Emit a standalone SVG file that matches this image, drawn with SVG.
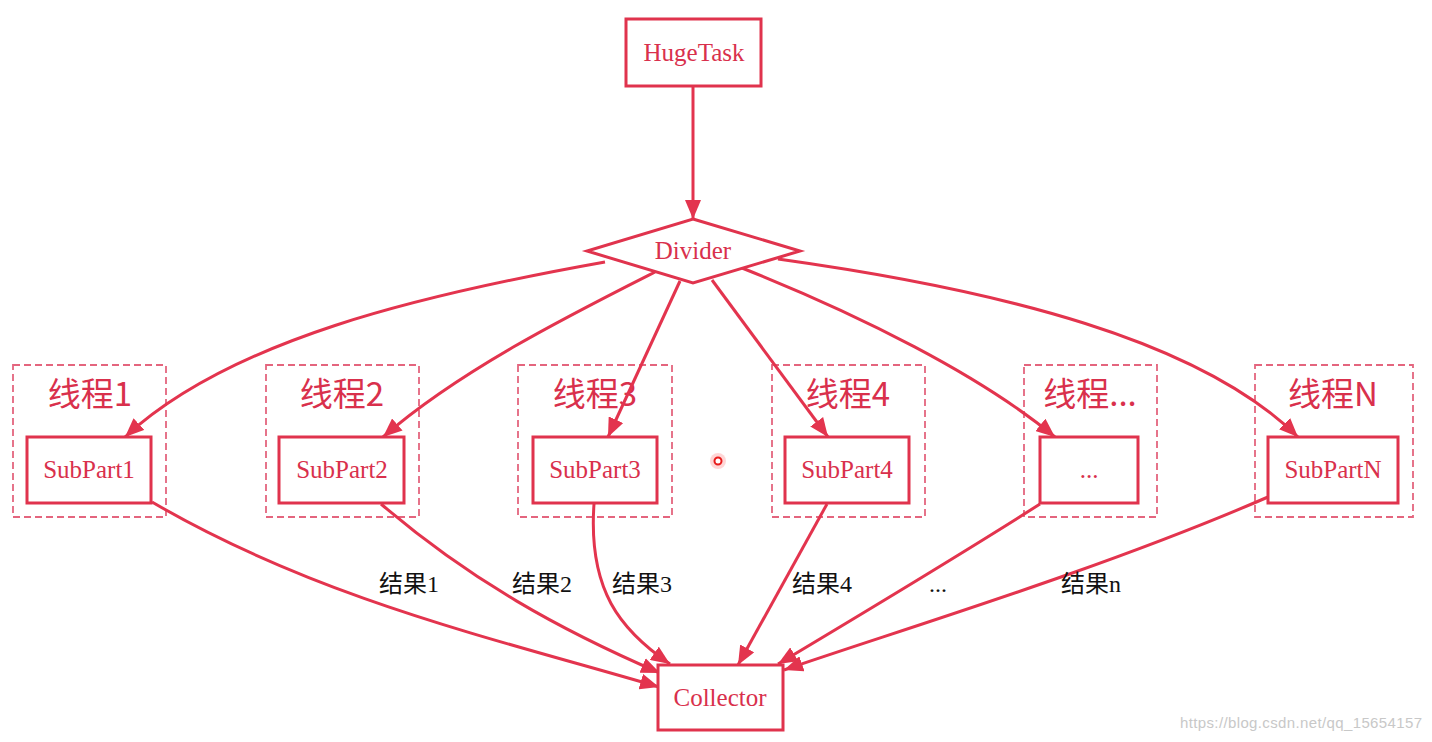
<svg xmlns="http://www.w3.org/2000/svg" width="1432" height="742" viewBox="0 0 1432 742">
<style>
.node{fill:#fff;stroke:#e0334d;stroke-width:3}
.ntext{font-family:"Liberation Serif",serif;font-size:25px;fill:#d9304c;text-anchor:middle;dominant-baseline:central}
.cluster{fill:none;stroke:#e4657e;stroke-width:1.8;stroke-dasharray:7 4}
.ctitle{font-family:"Noto Sans CJK SC",sans-serif;font-size:33px;fill:#d9304c;text-anchor:middle}
.edge{fill:none;stroke:#e3344e;stroke-width:3;marker-end:url(#arr)}
.elabel{font-family:"Liberation Serif","Noto Sans CJK SC",serif;font-size:24px;fill:#111;text-anchor:middle}
</style>
<defs>
<marker id="arr" markerUnits="userSpaceOnUse" markerWidth="19" markerHeight="16" refX="19" refY="8" orient="auto">
<path d="M0,0 L19,8 L0,16 z" fill="#e3344e"/>
</marker>
</defs>
<rect width="1432" height="742" fill="#fff"/>

<g id="clusters">
<g id="cluster1"><rect class="cluster" x="13" y="365" width="153" height="152"/><text class="ctitle" x="90" y="406">线程1</text></g>
<g id="cluster2"><rect class="cluster" x="266" y="365" width="153" height="152"/><text class="ctitle" x="342" y="406">线程2</text></g>
<g id="cluster3"><rect class="cluster" x="518" y="365" width="154" height="152"/><text class="ctitle" x="595" y="406">线程3</text></g>
<g id="cluster4"><rect class="cluster" x="772" y="365" width="153" height="152"/><text class="ctitle" x="848" y="406">线程4</text></g>
<g id="cluster5"><rect class="cluster" x="1024" y="365" width="133" height="152"/><text class="ctitle" x="1090" y="406">线程...</text></g>
<g id="clusterN"><rect class="cluster" x="1255" y="365" width="158" height="152"/><text class="ctitle" x="1333" y="406">线程N</text></g>
</g>

<g id="connectors">
<path class="edge" d="M693,86 L693,219"/>
<path class="edge" d="M605,262 C420,295 230,340 125,437"/>
<path class="edge" d="M655,272 C570,315 460,370 383,437"/>
<path class="edge" d="M680,281 L608,437"/>
<path class="edge" d="M712,280 L828,437"/>
<path class="edge" d="M742,268 C860,315 980,375 1055,437"/>
<path class="edge" d="M778,259 C1000,290 1200,340 1298,437"/>
<path class="edge" d="M152,502 C320,600 500,640 659,687"/>
<path class="edge" d="M381,504 C470,580 560,630 660,673"/>
<path class="edge" d="M594,504 C588,590 620,630 670,664"/>
<path class="edge" d="M827,504 L738,665"/>
<path class="edge" d="M1040,504 C960,555 860,615 778,664"/>
<path class="edge" d="M1268,497 C1100,570 900,630 784,670"/>
</g>

<g id="edge-labels">
<text class="elabel" x="409" y="592">结果1</text>
<text class="elabel" x="542" y="592">结果2</text>
<text class="elabel" x="642" y="592">结果3</text>
<text class="elabel" x="822" y="592">结果4</text>
<text class="elabel" x="938" y="592">...</text>
<text class="elabel" x="1091" y="592">结果n</text>
</g>

<g id="HugeTask"><rect class="node" x="626" y="19" width="135" height="67"/><text class="ntext" x="694" y="52">HugeTask</text></g>
<g id="Divider"><polygon class="node" points="693,219 800,251 693,283 587,251"/><text class="ntext" x="693" y="250">Divider</text></g>
<g id="SubPart1"><rect class="node" x="27" y="437" width="124" height="66"/><text class="ntext" x="89" y="469">SubPart1</text></g>
<g id="SubPart2"><rect class="node" x="279" y="437" width="125" height="66"/><text class="ntext" x="342" y="469">SubPart2</text></g>
<g id="SubPart3"><rect class="node" x="533" y="437" width="124" height="66"/><text class="ntext" x="595" y="469">SubPart3</text></g>
<g id="SubPart4"><rect class="node" x="785" y="437" width="124" height="66"/><text class="ntext" x="847" y="469">SubPart4</text></g>
<g id="SubPartDots"><rect class="node" x="1040" y="437" width="98" height="66"/><text class="ntext" x="1089" y="469">...</text></g>
<g id="SubPartN"><rect class="node" x="1268" y="437" width="130" height="66"/><text class="ntext" x="1333" y="469">SubPartN</text></g>
<g id="Collector"><rect class="node" x="658" y="665" width="125" height="65"/><text class="ntext" x="720" y="697">Collector</text></g>

<g id="cursor">
<circle cx="718" cy="461" r="8" fill="#ff5a5a" opacity="0.25"/>
<circle cx="718" cy="461" r="3.5" fill="#fff" stroke="#e81c1c" stroke-width="2"/>
</g>
<text x="1422" y="728" text-anchor="end" font-family="Liberation Sans,sans-serif" font-size="15" fill="#c8c8c8" textLength="242">https://blog.csdn.net/qq_15654157</text>
</svg>
